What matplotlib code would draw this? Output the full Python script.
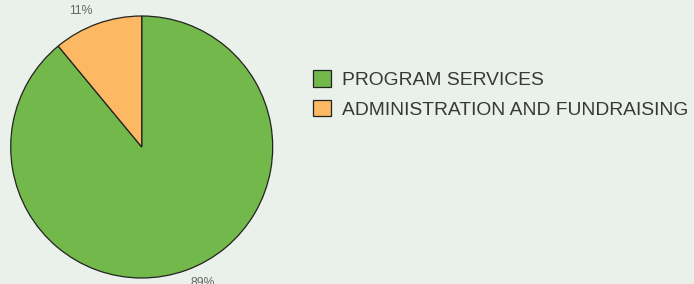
import matplotlib
matplotlib.use("Agg")
import matplotlib.pyplot as plt

categories = ["PROGRAM SERVICES", "ADMINISTRATION AND FUNDRAISING"]
values = [89, 11]
pct_labels = ["89%", "11%"]
colors = ["#73B84A", "#FDB863"]

W, H = 694, 284
fig = plt.figure(figsize=(W / 100, H / 100), dpi=100)
bg = "#EAF1EA"
fig.patch.set_facecolor(bg)

# pie axes: circle box from (10.7,16) to (272.7,278) px
left, top, size = 10.7, 16.0, 262.0
ax = fig.add_axes([left / W, 1 - (top + size) / H, size / W, size / H])
ax.set_facecolor(bg)

wedges, texts = ax.pie(
    values, labels=pct_labels, colors=colors, startangle=90, counterclock=False,
    labeldistance=1.1,
    wedgeprops=dict(edgecolor="#222222", linewidth=0.9),
    textprops=dict(fontsize=8.8, color="#666666", family="Liberation Sans"),
)
for w in wedges:
    w.set_clip_on(False)
ax.set_xlim(-1, 1)
ax.set_ylim(-1, 1)
ax.set_aspect("equal")
ax.axis("off")

leg = fig.legend(
    wedges, categories, loc="upper left",
    bbox_to_anchor=(313 / W, 1 - 70 / H), bbox_transform=fig.transFigure,
    frameon=False, borderpad=0, borderaxespad=0,
    handlelength=0.95, handleheight=0.95, handletextpad=0.55, labelspacing=0.55,
    prop=dict(family="Liberation Sans", size=13.9),
)
for t in leg.get_texts():
    t.set_color("#383838")
for h in leg.legend_handles:
    h.set_linewidth(0.9)
    h.set_edgecolor("#222222")

fig.savefig("out.png", dpi=100, facecolor=bg)
